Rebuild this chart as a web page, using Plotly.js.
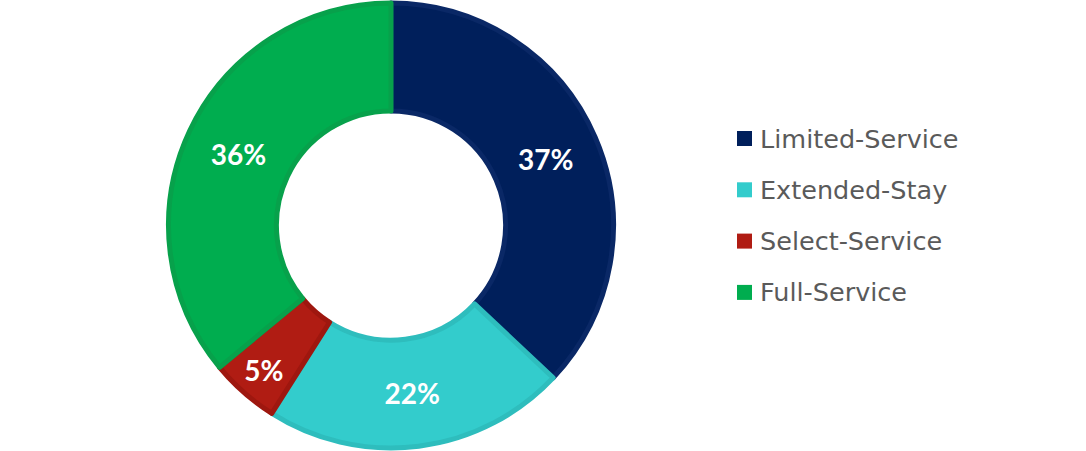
<!DOCTYPE html>
<html>
<head>
<meta charset="utf-8">
<script src="https://cdn.plot.ly/plotly-3.0.1.min.js"></script>
<style>html,body{margin:0;padding:0;background:#fff;}#chart{width:1086px;height:451px;}</style>
</head>
<body>
<div id="chart"></div>
<script>
var categories = ["Limited-Service", "Extended-Stay", "Select-Service", "Full-Service"];
var shares = [37, 22, 5, 36];
var fillColors = ["#001f5b", "#33cccc", "#b01c13", "#00ad4f"];
var edgeColors = ["#0a2866", "#2ebdbd", "#9e170f", "#07a14b"];

var trace = {
  type: "pie",
  labels: categories,
  values: shares,
  sort: false,
  direction: "clockwise",
  rotation: 0,
  hole: 0.515,
  domain: {x: [166/1086, 616/1086], y: [0.0067, 0.9933]},
  marker: {colors: fillColors, line: {color: edgeColors, width: 5}},
  texttemplate: "%{value}%",
  textposition: "inside",
  insidetextorientation: "horizontal",
  textfont: {family: "Lato, 'Open Sans', sans-serif", size: 28, color: "#ffffff", weight: 700},
  showlegend: false,
  hoverinfo: "label+value"
};

var annotations = [];
var shapes = [];
var rowY0 = 138.5, rowStep = 51.3, H = 451, W = 1086;
categories.forEach(function(c, i) {
  var yc = rowY0 + i * rowStep;
  shapes.push({type: "rect", xref: "paper", yref: "paper",
    x0: 737 / W, x1: 752 / W, y0: 1 - (yc - 7.5) / H, y1: 1 - (yc + 7.5) / H,
    fillcolor: fillColors[i], line: {width: 0}});
  annotations.push({xref: "paper", yref: "paper", x: 758 / W, y: 1 - yc / H,
    xanchor: "left", yanchor: "middle", showarrow: false, text: c,
    font: {family: "'DejaVu Sans', sans-serif", size: 25.5, color: "#5a5a5a"}});
});

var layout = {
  width: 1086, height: 451,
  margin: {l: 0, r: 0, t: 0, b: 0},
  paper_bgcolor: "#ffffff",
  showlegend: false,
  shapes: shapes,
  annotations: annotations
};
Plotly.newPlot("chart", [trace], layout, {displayModeBar: false, staticPlot: true});
</script>
</body>
</html>
